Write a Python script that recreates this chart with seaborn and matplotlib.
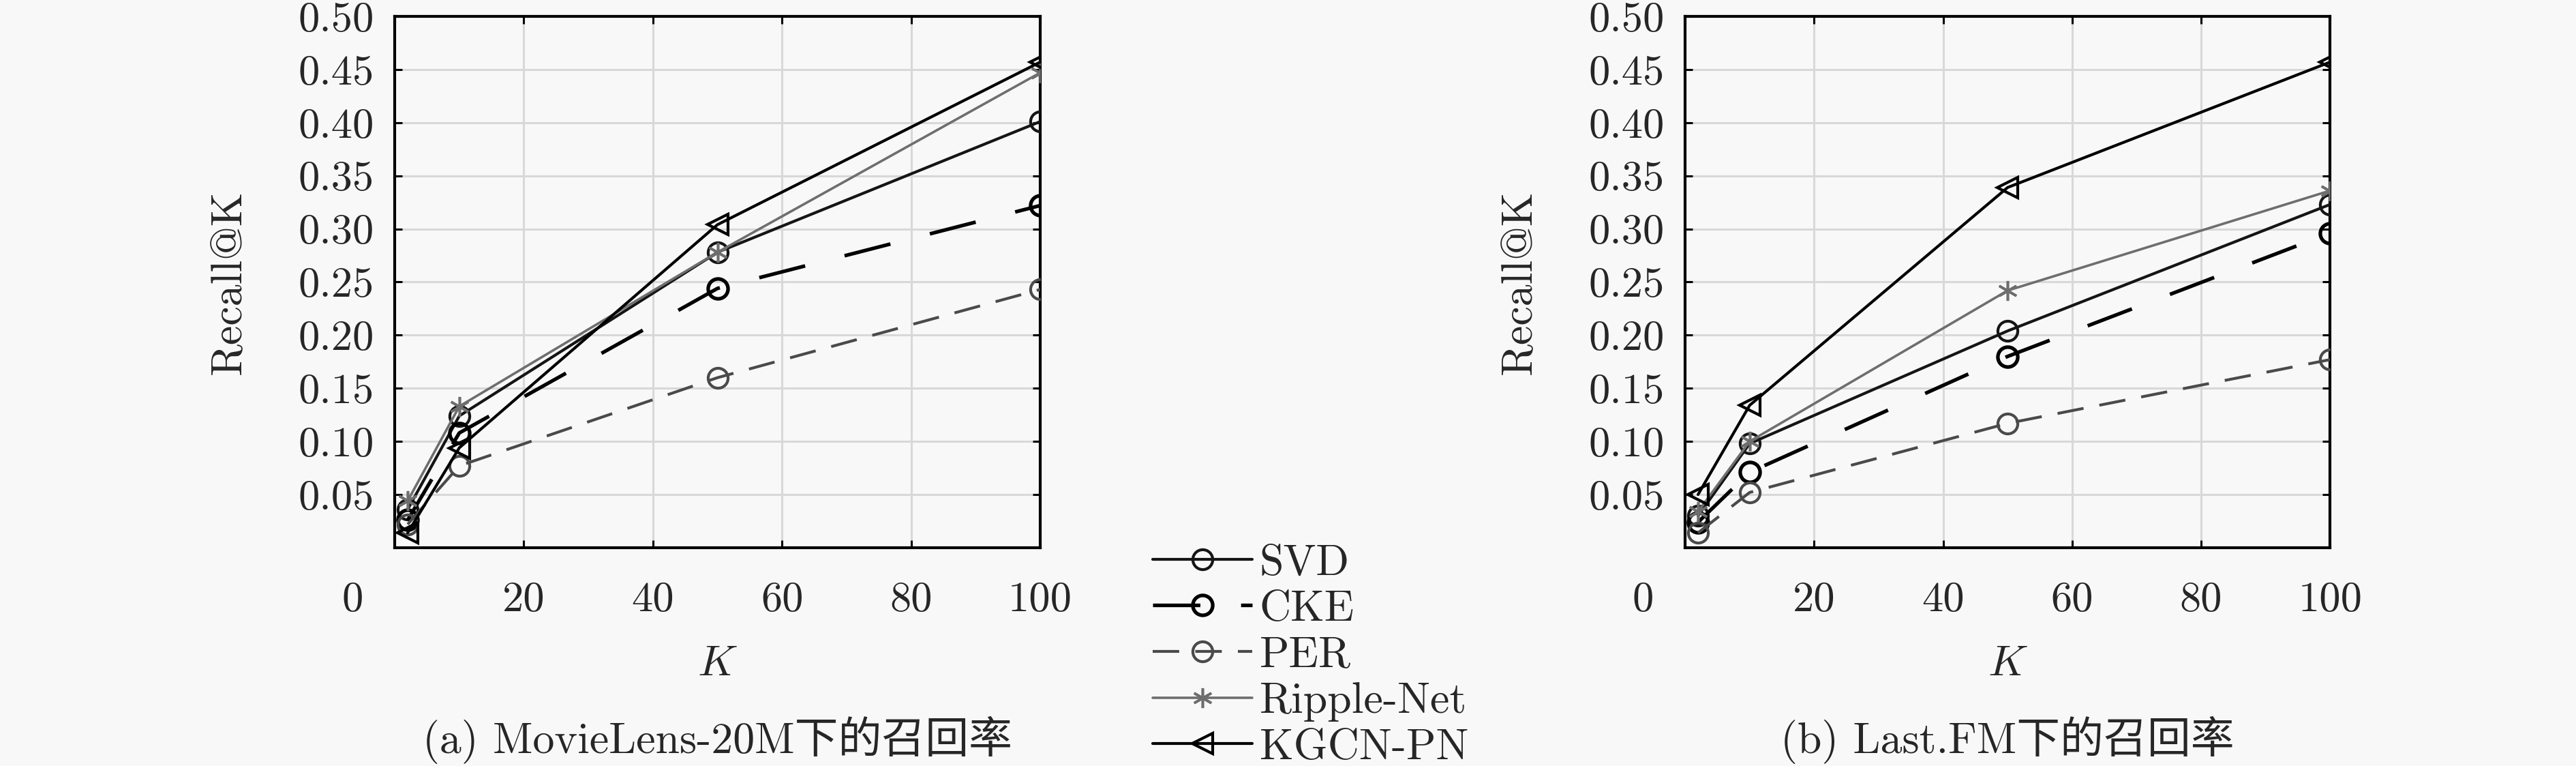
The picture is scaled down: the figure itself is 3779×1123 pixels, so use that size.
import matplotlib
matplotlib.use("Agg")
import matplotlib.pyplot as plt
import matplotlib.transforms as mtransforms
import seaborn as sns

# values
K = [2, 10, 50, 100]
methods = ["SVD", "CKE", "PER", "Ripple-Net", "KGCN-PN"]

ml_svd = [0.036, 0.124, 0.278, 0.401]
ml_cke = [0.026, 0.108, 0.244, 0.322]
ml_per = [0.022, 0.077, 0.160, 0.243]
ml_ripple = [0.044, 0.133, 0.278, 0.447]
ml_kgcn = [0.014, 0.094, 0.304, 0.457]

fm_svd = [0.030, 0.098, 0.204, 0.323]
fm_cke = [0.024, 0.071, 0.180, 0.296]
fm_per = [0.014, 0.052, 0.117, 0.177]
fm_ripple = [0.034, 0.100, 0.242, 0.336]
fm_kgcn = [0.050, 0.134, 0.339, 0.457]

x_ticks = [0, 20, 40, 60, 80, 100]
y_ticks = [0.05, 0.10, 0.15, 0.20, 0.25, 0.30, 0.35, 0.40, 0.45, 0.50]
y_labels = ["0.05", "0.10", "0.15", "0.20", "0.25", "0.30", "0.35", "0.40", "0.45", "0.50"]
titles = ["(a) MovieLens-20M下的召回率", "(b) Last.FM下的召回率"]

sns.set_theme(style="ticks")
plt.rcParams["font.family"] = ["cmr10", "Noto Sans CJK SC"]
plt.rcParams["mathtext.fontset"] = "cm"
plt.rcParams["axes.formatter.use_mathtext"] = True
plt.rcParams["lines.scale_dashes"] = False

BG = "#f8f8f8"
FS = 46

# line styles per method
styles = {
    "SVD": dict(color="#151515", lw=3.0, marker="o", linestyle="-"),
    "CKE": dict(color="#000000", lw=3.8, marker="o", linestyle=(0, (50, 43))),
    "PER": dict(color="#4a4a4a", lw=3.0, marker="o", linestyle=(0, (28, 17))),
    "Ripple-Net": dict(color="#6e6e6e", lw=2.6, marker=(6, 2, 0), linestyle="-"),
    "KGCN-PN": dict(color="#000000", lw=3.0, marker="<", linestyle="-"),
}

fig = plt.figure(figsize=(37.8, 11.23), dpi=100, facecolor=BG)
ax1 = fig.add_axes([0.1532, 0.2850, 0.2505, 0.6936])
ax2 = fig.add_axes([0.6540, 0.2850, 0.2503, 0.6936])

datasets = [
    (ax1, [ml_svd, ml_cke, ml_per, ml_ripple, ml_kgcn]),
    (ax2, [fm_svd, fm_cke, fm_per, fm_ripple, fm_kgcn]),
]

for i, (ax, series) in enumerate(datasets):
    ax.set_facecolor(BG)
    for name, vals in zip(methods, series):
        st = styles[name]
        sns.lineplot(x=K, y=vals, ax=ax, color=st["color"], linewidth=st["lw"],
                     linestyle=st["linestyle"], marker=st["marker"], markersize=21,
                     markerfacecolor="none", markeredgecolor=st["color"],
                     markeredgewidth=st["lw"], label=name, errorbar=None,
                     legend=False, zorder=3)

    ax.set_xlim(0, 100)
    ax.set_ylim(0, 0.5)
    ax.set_xticks(x_ticks)
    ax.set_xticklabels([str(t) for t in x_ticks])
    ax.set_yticks(y_ticks)
    ax.set_yticklabels(y_labels)
    ax.grid(True, color="#d8d8d8", linewidth=2.2, zorder=0)
    ax.set_axisbelow(True)
    for sp in ax.spines.values():
        sp.set_color("black")
        sp.set_linewidth(3.0)
    ax.tick_params(direction="in", length=8, width=2.2, color="black",
                   top=True, right=True, labelsize=FS - 1)
    ax.tick_params(axis="x", pad=36)
    ax.tick_params(axis="y", pad=22)

    # the "0" label sits further left in the original
    shift = mtransforms.ScaledTranslation(-0.62, 0, fig.dpi_scale_trans)
    lab0 = ax.get_xticklabels()[0]
    lab0.set_transform(lab0.get_transform() + shift)

    ax.set_xlabel("$K$", fontsize=FS, va="center")
    ax.xaxis.set_label_coords(0.5, -0.219)
    ax.set_ylabel("Recall@K", fontsize=FS, ha="center", va="center")
    ax.yaxis.set_label_coords(-0.256, 0.5)

    ax.text(0.5, -0.362, titles[i], transform=ax.transAxes, ha="center",
            va="center", fontsize=FS)

handles, labels = ax1.get_legend_handles_labels()
fig.legend(handles, labels, loc="upper left", bbox_to_anchor=(0.4474, 0.290),
           frameon=False, fontsize=FS, handlelength=2.28, handletextpad=0.17,
           labelspacing=0.15, borderpad=0, borderaxespad=0)

fig.savefig("out.png", dpi=100, facecolor=BG)
